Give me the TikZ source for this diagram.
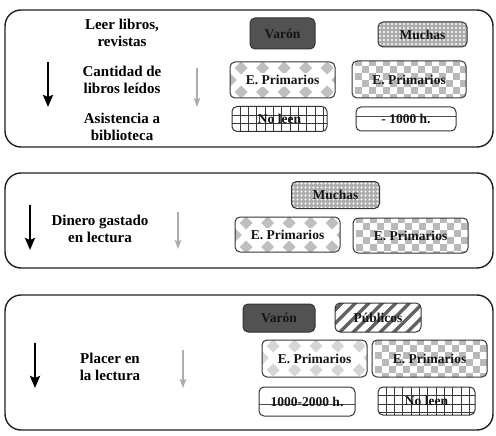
\documentclass[tikz,border=0pt]{standalone}
\usepackage{fontspec}
\setmainfont{Liberation Serif}
\usetikzlibrary{arrows.meta}

\newcommand\dmd[3]{\fill[#3, sharp corners] ([shift={({#1},{#2})}]path picture bounding box.north west) ++(0,6.5pt) -- ++(6.5pt,-6.5pt) -- ++(-6.5pt,-6.5pt) -- ++(-6.5pt,6.5pt) -- cycle;}

\tikzset{
  lbl/.style={font=\fontsize{15}{16.5}\selectfont\bfseries, align=center, text=black},
  panel/.style={draw=black!88, line width=1.4pt, rounded corners=16pt, inner sep=0pt},
  tbox/.style={draw=black!80, line width=1pt, rounded corners=5pt, inner sep=0pt,
    font=\fontsize{13.5}{14}\selectfont\bfseries, text=black!92},
  darkbox/.style={tbox, fill=black!68},
  dotbox/.style={tbox, fill=gray!65, path picture={
    \foreach \i in {0,...,23}{\foreach \j in {0,...,7}{
      \fill[white] ([shift={({\i*4pt+2pt},{-\j*4pt-2pt})}]path picture bounding box.north west) circle (1.15pt);}}}},
  checkbox/.style={tbox, path picture={
    \foreach \i in {0,...,8}{\foreach \j in {0,...,2}{
      \fill[gray!55, sharp corners] ([shift={({\i*14pt+3pt},{-\j*14pt+2pt})}]path picture bounding box.north west) rectangle +(7pt,-7pt);
      \fill[gray!55, sharp corners] ([shift={({\i*14pt+10pt},{-\j*14pt-5pt})}]path picture bounding box.north west) rectangle +(7pt,-7pt);}}}},
  dmdbox/.style={tbox, path picture={
    \foreach \i in {0,...,5}{
      \dmd{\i*21.5pt+11pt}{-6pt}{#1}
      \dmd{\i*21.5pt+11pt}{-30pt}{#1}
      \dmd{\i*21.5pt+0.25pt}{-18pt}{#1}}
    \fill[white, sharp corners] ([xshift=-40pt,yshift=-6.8pt]path picture bounding box.center) rectangle
                 ([xshift=40pt,yshift=6.8pt]path picture bounding box.center);}},
  gridbox/.style={tbox, path picture={
    \foreach \i in {1,...,12}{\draw[black!78, line width=0.9pt] ([shift={({\i*8.3pt},2pt)}]path picture bounding box.north west) -- ++(0,-36pt);}
    \foreach \j in {1,2,3}{\draw[black!78, line width=0.9pt] ([shift={(-2pt,{-\j*8.6pt})}]path picture bounding box.north west) -- ++(110pt,0);}}},
  stripebox/.style={tbox, path picture={
    \foreach \i in {-3,...,8}{\draw[black!62, line width=3.4pt] ([shift={({\i*13.5pt},-34pt)}]path picture bounding box.north west) -- ++(36pt,36pt);}}},
  linebox/.style={tbox, path picture={
    \draw[black!70, line width=0.8pt] ([yshift=-#1]path picture bounding box.north west) --
      ([yshift=-#1]path picture bounding box.north east);}},
  bigarrow/.style={line width=2.6pt, black, -{Stealth[length=12pt,width=10pt,inset=2pt]}},
  grayarrow/.style={line width=1.3pt, gray!65, -{Stealth[length=9pt,width=6.5pt,inset=1.5pt]}},
}

\begin{document}
\begin{tikzpicture}[x=1pt, y=1pt]
\useasboundingbox (0,0) rectangle (496,-436);

% panels
\node[panel, minimum width=488pt, minimum height=137pt] (p1) at (249,-78.5) {};
\node[panel, minimum width=488pt, minimum height=95pt] (p2) at (249,-220.5) {};
\node[panel, minimum width=488pt, minimum height=135pt] (p3) at (249,-362.5) {};

% panel 1
\node[lbl] (l1a) at (122,-33) {Leer libros,\\revistas};
\node[lbl] (l1b) at (122,-80) {Cantidad de\\libros leídos};
\node[lbl] (l1c) at (122,-127) {Asistencia a\\biblioteca};
\coordinate (a1s) at (48,-62);  \coordinate (a1e) at (48,-107);
\coordinate (g1s) at (197,-68); \coordinate (g1e) at (197,-107);
\draw[bigarrow] (a1s) -- (a1e);
\draw[grayarrow] (g1s) -- (g1e);

\node[darkbox, minimum width=65pt, minimum height=31pt] (v1) at (282.5,-33.5) {Varón};
\node[dotbox, minimum width=89pt, minimum height=25pt] (m1) at (422.5,-34.5) {Muchas};
\node[dmdbox=gray!50, minimum width=105pt, minimum height=36pt] (e1a) at (282.5,-80) {E. Primarios};
\node[checkbox, minimum width=114pt, minimum height=37pt] (e1b) at (409,-79.5) {E. Primarios};
\node[gridbox, minimum width=95pt, minimum height=25pt] (n1) at (279.5,-119) {No leen};
\node[linebox=9pt, minimum width=100pt, minimum height=24pt] (h1) at (406,-119) {- 1000 h.};

% panel 2
\node[lbl] (l2) at (100,-229) {Dinero gastado\\en lectura};
\coordinate (a2s) at (30,-205);  \coordinate (a2e) at (30,-250);
\coordinate (g2s) at (178,-212); \coordinate (g2e) at (178,-249);
\draw[bigarrow] (a2s) -- (a2e);
\draw[grayarrow] (g2s) -- (g2e);

\node[dotbox, minimum width=88pt, minimum height=27pt] (m2) at (335.5,-195) {Muchas};
\node[dmdbox=gray!50, minimum width=105pt, minimum height=35pt] (e2a) at (287.5,-234.5) {E. Primarios};
\node[checkbox, minimum width=115pt, minimum height=35pt] (e2b) at (410.5,-235.5) {E. Primarios};

% panel 3
\node[lbl] (l3) at (110,-367) {Placer en\\la lectura};
\coordinate (a3s) at (35,-343);  \coordinate (a3e) at (35,-388);
\coordinate (g3s) at (183,-350); \coordinate (g3e) at (183,-388);
\draw[bigarrow] (a3s) -- (a3e);
\draw[grayarrow] (g3s) -- (g3e);

\node[darkbox, minimum width=72pt, minimum height=28pt] (v3) at (279,-318) {Varón};
\node[stripebox, minimum width=86pt, minimum height=29pt] (pu) at (378,-317.5) {Públicos};
\node[dmdbox=gray!32, minimum width=105pt, minimum height=37pt] (e3a) at (314.5,-358.5) {E. Primarios};
\node[checkbox, minimum width=115pt, minimum height=37pt] (e3b) at (429.5,-358.5) {E. Primarios};
\node[linebox=17pt, minimum width=96pt, minimum height=29pt] (h3) at (307,-401.5) {1000-2000 h.};
\node[gridbox, minimum width=97pt, minimum height=28pt] (n3) at (426.5,-401) {No leen};
\end{tikzpicture}
\end{document}
